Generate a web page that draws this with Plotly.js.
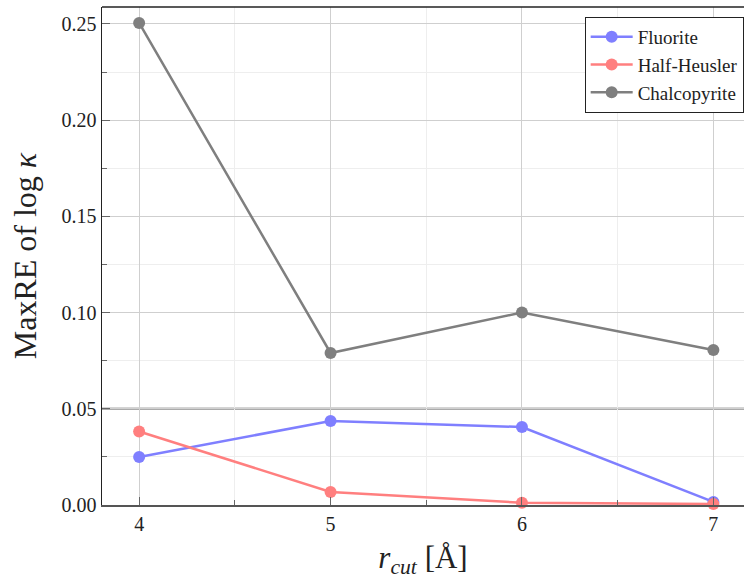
<!DOCTYPE html>
<html>
<head>
<meta charset="utf-8">
<script src="https://cdn.plot.ly/plotly-3.0.1.min.js"></script>
<style>html,body{margin:0;padding:0;background:#fff;}#chart{width:744px;height:583px;}</style>
</head>
<body>
<div id="chart"></div>
<script>
const rcut = [4, 5, 6, 7];
const fluorite = [0.0249, 0.0437, 0.0405, 0.0016];
const halfHeusler = [0.0382, 0.0068, 0.0012, 0.0005];
const chalcopyrite = [0.2505, 0.0790, 0.1000, 0.0806];
const seriesNames = ["Fluorite", "Half-Heusler", "Chalcopyrite"];
const colors = ["#7f7fff", "#ff7f7f", "#7f7f7f"];
const yTicks = [0, 0.05, 0.10, 0.15, 0.20, 0.25];
const yTickLabels = ["0.00", "0.05", "0.10", "0.15", "0.20", "0.25"];

const font = "Liberation Serif, DejaVu Serif, serif";
const data = [fluorite, halfHeusler, chalcopyrite].map((ys, i) => ({
  x: rcut, y: ys, name: seriesNames[i], type: "scatter", mode: "lines+markers",
  line: {color: colors[i], width: 2.5},
  marker: {color: colors[i], size: 12},
  cliponaxis: false
}));

const layout = {
  width: 744, height: 583,
  margin: {l: 102, r: 0, t: 7, b: 78},
  paper_bgcolor: "#fff", plot_bgcolor: "#fff",
  font: {family: font, size: 20, color: "#222"},
  showlegend: true,
  legend: {x: 0.9995, y: 0.98, xanchor: "right", yanchor: "top",
    bgcolor: "#fff", bordercolor: "#222", borderwidth: 1,
    itemwidth: 42,
    font: {family: font, size: 19, color: "#222"}, tracegroupgap: 0},
  xaxis: {
    range: [3.806, 7.16], tickvals: rcut, ticktext: rcut.map(String),
    showgrid: true, gridcolor: "#cfcfcf", gridwidth: 1,
    minor: {dtick: 0.5, tick0: 4, showgrid: true, gridcolor: "#eeeeee", ticks: "inside", ticklen: 5, tickcolor: "#666"},
    ticks: "inside", ticklen: 8, tickcolor: "#666",
    showline: true, linecolor: "#555", linewidth: 2, mirror: false,
    zeroline: false,
    title: {text: "<i>r<sub>cut</sub></i> [Å]", font: {family: font, size: 31, color: "#222"}, standoff: 12}
  },
  yaxis: {
    range: [0, 0.2588], tickvals: yTicks, ticktext: yTickLabels,
    showgrid: true, gridcolor: "#cfcfcf", gridwidth: 1,
    minor: {dtick: 0.025, tick0: 0, showgrid: true, gridcolor: "#eeeeee", ticks: "inside", ticklen: 5, tickcolor: "#666"},
    ticks: "inside", ticklen: 8, tickcolor: "#666",
    showline: true, linecolor: "#222", linewidth: 1.5, mirror: false,
    zeroline: false,
    title: {text: "MaxRE of log <i>κ</i>", font: {family: font, size: 32, color: "#222"}, standoff: 15}
  },
  shapes: [
    {type: "line", xref: "paper", x0: 0, x1: 1, yref: "y", y0: 0.05, y1: 0.05,
      line: {color: "#aaaaaa", width: 2.5}, layer: "below"},
    {type: "line", xref: "paper", x0: 0, x1: 1, yref: "paper", y0: 1, y1: 1,
      line: {color: "#222", width: 1.5}}
  ]
};

Plotly.newPlot("chart", data, layout, {displayModeBar: false, staticPlot: true});
</script>
</body>
</html>
